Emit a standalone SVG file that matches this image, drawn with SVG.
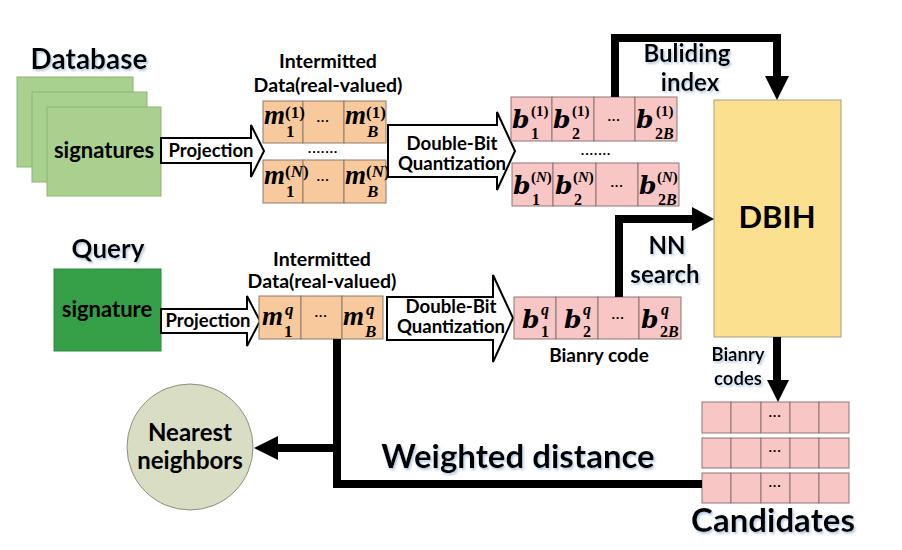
<svg xmlns="http://www.w3.org/2000/svg" width="902" height="550" viewBox="0 0 902 550">
<defs>
<filter id="sh" x="-10%" y="-20%" width="130%" height="160%">
<feDropShadow dx="1.5" dy="2" stdDeviation="1" flood-color="#9BB5D6" flood-opacity="0.7"/>
</filter>
</defs>
<style>
.t{font-family:"Lato","Open Sans","Liberation Sans",sans-serif;font-weight:bold;fill:#000}
.mm{font-family:"Liberation Serif","DejaVu Serif",serif;font-weight:bold;font-style:italic;fill:#000}
.bb{font-family:"DejaVu Serif","Liberation Serif",serif;font-weight:bold;font-style:italic;fill:#000}
.up{font-style:normal}
.db{fill:#A9D08E;stroke:#8DB673;stroke-width:1}
.or{fill:#F9C99E;stroke:#8C7B6B;stroke-width:1}
.pk{fill:#F8C6C4;stroke:#8C7474;stroke-width:1}
.ha{fill:#fff;stroke:#000;stroke-width:2;stroke-linejoin:miter}
.ln{fill:none;stroke:#000;stroke-width:8;stroke-linejoin:miter}
.dots{font-family:"Liberation Sans",sans-serif;font-size:13px;font-weight:bold;fill:#000}
</style>
<rect width="902" height="550" fill="#fff"/>

<g id="database">
<text class="t" x="89" y="69" font-size="28" text-anchor="middle" filter="url(#sh)">Database</text>
<rect class="db" x="17" y="77" width="116" height="90"/>
<rect class="db" x="32" y="92" width="115" height="90"/>
<rect class="db" x="47" y="107" width="114" height="89"/>
<text class="t" x="104" y="158" font-size="22" text-anchor="middle">signatures</text>
</g>

<g id="projection-top">
<polygon class="ha" points="161,138 251,138 251,125 264,151 251,177 251,163 161,163"/>
<text class="t" x="211" y="157" font-size="18.5" text-anchor="middle">Projection</text>
</g>

<g id="intermitted-top">
<text class="t" x="328" y="68" font-size="19.5" text-anchor="middle">Intermitted</text>
<text class="t" x="328" y="92" font-size="19.5" text-anchor="middle">Data(real-valued)</text>
<rect class="or" x="263" y="101" width="40" height="42"/>
<rect class="or" x="303" y="101" width="41" height="42"/>
<rect class="or" x="344" y="101" width="42" height="42"/>
<text class="mm" x="264" y="124" font-size="27">m</text>
<text class="mm" x="286" y="137" font-size="17"><tspan class="up">1</tspan></text>
<text class="mm" x="285" y="118" font-size="17"><tspan class="up">(1)</tspan></text>
<text class="dots" x="323" y="125" text-anchor="middle">···</text>
<text class="mm" x="345" y="124" font-size="27">m</text>
<text class="mm" x="367" y="137" font-size="17">B</text>
<text class="mm" x="366" y="118" font-size="17"><tspan class="up">(1)</tspan></text>
<text class="dots" x="323" y="156" text-anchor="middle">·······</text>
<rect class="or" x="263" y="160" width="40" height="43"/>
<rect class="or" x="303" y="160" width="41" height="43"/>
<rect class="or" x="344" y="160" width="42" height="43"/>
<text class="mm" x="264" y="184" font-size="27">m</text>
<text class="mm" x="286" y="197" font-size="17"><tspan class="up">1</tspan></text>
<text class="mm" x="285" y="177" font-size="17"><tspan class="up">(</tspan>N<tspan class="up">)</tspan></text>
<text class="dots" x="323" y="184" text-anchor="middle">···</text>
<text class="mm" x="345" y="184" font-size="27">m</text>
<text class="mm" x="367" y="197" font-size="17">B</text>
<text class="mm" x="366" y="177" font-size="17"><tspan class="up">(</tspan>N<tspan class="up">)</tspan></text>
</g>

<g id="dbq-top">
<polygon class="ha" points="388,125 497,125 497,112 515,151 497,190 497,177 388,177"/>
<text class="t" x="452" y="150" font-size="18.6" text-anchor="middle">Double-Bit</text>
<text class="t" x="452" y="170" font-size="18.6" text-anchor="middle">Quantization</text>
</g>

<g id="binary-top">
<rect class="pk" x="511" y="97" width="41" height="44"/>
<rect class="pk" x="552" y="97" width="42" height="44"/>
<rect class="pk" x="594" y="97" width="41" height="44"/>
<rect class="pk" x="635" y="97" width="42" height="44"/>
<text class="bb" x="512" y="128" font-size="25">b</text>
<text class="mm" x="531" y="139" font-size="16"><tspan class="up">1</tspan></text>
<text class="mm" x="531" y="116" font-size="15"><tspan class="up">(1)</tspan></text>
<text class="bb" x="553" y="128" font-size="25">b</text>
<text class="mm" x="572" y="139" font-size="16"><tspan class="up">2</tspan></text>
<text class="mm" x="572" y="116" font-size="15"><tspan class="up">(1)</tspan></text>
<text class="dots" x="614" y="124" text-anchor="middle">···</text>
<text class="bb" x="636" y="128" font-size="25">b</text>
<text class="mm" x="655" y="139" font-size="16"><tspan class="up">2</tspan>B</text>
<text class="mm" x="656" y="116" font-size="15"><tspan class="up">(1)</tspan></text>
<text class="dots" x="596" y="158" text-anchor="middle">·······</text>
<rect class="pk" x="512" y="163" width="41" height="43"/>
<rect class="pk" x="553" y="163" width="43" height="43"/>
<rect class="pk" x="596" y="163" width="42" height="43"/>
<rect class="pk" x="638" y="163" width="41" height="43"/>
<text class="bb" x="513" y="194" font-size="25">b</text>
<text class="mm" x="532" y="205" font-size="16"><tspan class="up">1</tspan></text>
<text class="mm" x="531" y="182" font-size="15"><tspan class="up">(</tspan>N<tspan class="up">)</tspan></text>
<text class="bb" x="555" y="194" font-size="25">b</text>
<text class="mm" x="574" y="205" font-size="16"><tspan class="up">2</tspan></text>
<text class="mm" x="573" y="182" font-size="15"><tspan class="up">(</tspan>N<tspan class="up">)</tspan></text>
<text class="dots" x="617" y="190" text-anchor="middle">···</text>
<text class="bb" x="639" y="194" font-size="25">b</text>
<text class="mm" x="658" y="205" font-size="16"><tspan class="up">2</tspan>B</text>
<text class="mm" x="657" y="182" font-size="15"><tspan class="up">(</tspan>N<tspan class="up">)</tspan></text>
</g>

<g id="dbih">
<rect x="714" y="100" width="127" height="237" fill="#FBE08F" stroke="#A89F7A" stroke-width="1"/>
<text class="t" x="777" y="228" font-size="31" text-anchor="middle">DBIH</text>
</g>

<g id="query">
<text class="t" x="108" y="258" font-size="26" text-anchor="middle" filter="url(#sh)">Query</text>
<rect x="54" y="269" width="107" height="82" fill="#35A048" stroke="#2E8A3E" stroke-width="1"/>
<text class="t" x="107" y="317" font-size="22" text-anchor="middle">signature</text>
</g>

<g id="projection-bottom">
<polygon class="ha" points="161,309 247,309 247,296 260,321 247,346 247,333 161,333"/>
<text class="t" x="208" y="327" font-size="18.5" text-anchor="middle">Projection</text>
</g>

<g id="intermitted-bottom">
<text class="t" x="322" y="266" font-size="19.5" text-anchor="middle">Intermitted</text>
<text class="t" x="322" y="288" font-size="19.5" text-anchor="middle">Data(real-valued)</text>
<rect class="or" x="259" y="296" width="42" height="43"/>
<rect class="or" x="301" y="296" width="41" height="43"/>
<rect class="or" x="342" y="296" width="41" height="43"/>
<text class="mm" x="262" y="325" font-size="27">m</text>
<text class="mm" x="284" y="337" font-size="17"><tspan class="up">1</tspan></text>
<text class="mm" x="285" y="315" font-size="17">q</text>
<text class="dots" x="321" y="320" text-anchor="middle">···</text>
<text class="mm" x="343" y="325" font-size="27">m</text>
<text class="mm" x="365" y="337" font-size="17">B</text>
<text class="mm" x="366" y="315" font-size="17">q</text>
</g>

<g id="dbq-bottom">
<polygon class="ha" points="387,297 493,297 493,275 513,318 493,362 493,340 387,340"/>
<text class="t" x="451" y="313" font-size="18.6" text-anchor="middle">Double-Bit</text>
<text class="t" x="451" y="333" font-size="18.6" text-anchor="middle">Quantization</text>
</g>

<g id="binary-query">
<rect class="pk" x="514" y="297" width="42" height="42"/>
<rect class="pk" x="556" y="297" width="42" height="42"/>
<rect class="pk" x="598" y="297" width="41" height="42"/>
<rect class="pk" x="639" y="297" width="42" height="42"/>
<text class="bb" x="522" y="328" font-size="25">b</text>
<text class="mm" x="541" y="337" font-size="16"><tspan class="up">1</tspan></text>
<text class="mm" x="541" y="315" font-size="16">q</text>
<text class="bb" x="564" y="328" font-size="25">b</text>
<text class="mm" x="583" y="337" font-size="16"><tspan class="up">2</tspan></text>
<text class="mm" x="583" y="315" font-size="16">q</text>
<text class="dots" x="618" y="322" text-anchor="middle">···</text>
<text class="bb" x="641" y="328" font-size="25">b</text>
<text class="mm" x="660" y="337" font-size="16"><tspan class="up">2</tspan>B</text>
<text class="mm" x="661" y="315" font-size="16">q</text>
<text class="t" x="599" y="362" font-size="19" text-anchor="middle">Bianry code</text>
</g>

<g id="nearest">
<circle cx="190" cy="447" r="63" fill="#D9DDC4" stroke="#8E8E80" stroke-width="1"/>
<text class="t" x="190" y="441" font-size="24" text-anchor="middle">Nearest</text>
<text class="t" x="190" y="469" font-size="24" text-anchor="middle">neighbors</text>
</g>

<g id="candidates">
<rect class="pk" x="702" y="402" width="29" height="31"/>
<rect class="pk" x="731" y="402" width="30" height="31"/>
<rect class="pk" x="761" y="402" width="29" height="31"/>
<rect class="pk" x="790" y="402" width="29" height="31"/>
<rect class="pk" x="819" y="402" width="30" height="31"/>
<text class="dots" x="775" y="420" text-anchor="middle">···</text>
<rect class="pk" x="702" y="438" width="29" height="30"/>
<rect class="pk" x="731" y="438" width="30" height="30"/>
<rect class="pk" x="761" y="438" width="29" height="30"/>
<rect class="pk" x="790" y="438" width="29" height="30"/>
<rect class="pk" x="819" y="438" width="30" height="30"/>
<text class="dots" x="775" y="455" text-anchor="middle">···</text>
<rect class="pk" x="702" y="473" width="29" height="30"/>
<rect class="pk" x="731" y="473" width="30" height="30"/>
<rect class="pk" x="761" y="473" width="29" height="30"/>
<rect class="pk" x="790" y="473" width="29" height="30"/>
<rect class="pk" x="819" y="473" width="30" height="30"/>
<text class="dots" x="775" y="490" text-anchor="middle">···</text>
<text class="t" x="773" y="532" font-size="33" text-anchor="middle" filter="url(#sh)">Candidates</text>
</g>

<g id="connectors">
<polyline class="ln" points="615,97 615,38 777,38 777,78"/>
<polygon points="765,76 789,76 777,100" fill="#000"/>
<text class="t" x="687" y="62" font-size="24" text-anchor="middle" filter="url(#sh)">Buliding</text>
<text class="t" x="690" y="91" font-size="24" text-anchor="middle" filter="url(#sh)">index</text>

<polyline class="ln" points="619,297 619,219 694,219"/>
<polygon points="692,207 714,219 692,231" fill="#000"/>
<text class="t" x="667" y="254" font-size="24" text-anchor="middle" filter="url(#sh)">NN</text>
<text class="t" x="665" y="283" font-size="24" text-anchor="middle" filter="url(#sh)">search</text>

<line class="ln" x1="777" y1="337" x2="777" y2="382"/>
<polygon points="767,380 789,380 778,402" fill="#000"/>
<text class="t" x="738" y="361" font-size="18.5" text-anchor="middle" filter="url(#sh)">Bianry</text>
<text class="t" x="738" y="385" font-size="18.5" text-anchor="middle" filter="url(#sh)">codes</text>

<polyline class="ln" points="337,339 337,484 702,484" stroke-width="7"/>
<line class="ln" x1="337" y1="448" x2="276" y2="448" stroke-width="7"/>
<polygon points="278,436 278,460 254,448" fill="#000"/>
<text class="t" x="518" y="468" font-size="33" text-anchor="middle" filter="url(#sh)">Weighted distance</text>
</g>
</svg>
